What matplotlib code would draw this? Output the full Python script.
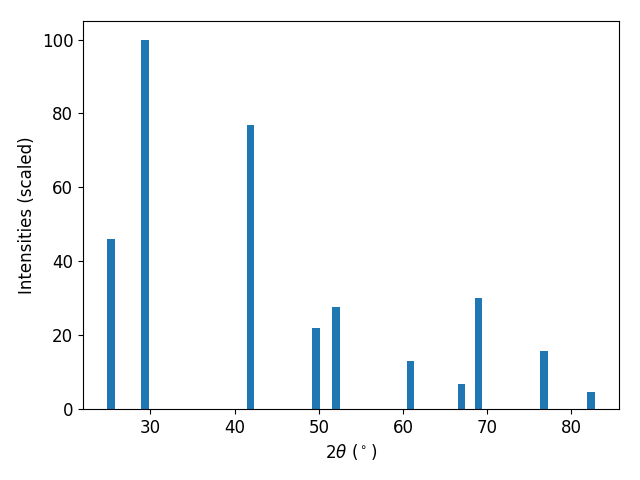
import matplotlib
matplotlib.use("Agg")
import matplotlib.pyplot as plt

two_theta = [25.3, 29.35, 41.9, 49.67, 52.05, 60.87, 66.99, 69.03, 76.77, 82.35]
intensity = [46.1, 100.0, 77.0, 22.0, 27.7, 13.0, 6.8, 30.1, 15.7, 4.6]

fig, ax = plt.subplots(figsize=(6.4, 4.8), dpi=100)
ax.bar(two_theta, intensity, width=0.85, color="#1f77b4")
ax.set_xlabel(r"$2\theta$ ($^\circ$)", fontsize=12)
ax.set_ylabel("Intensities (scaled)", fontsize=12)
ax.tick_params(labelsize=12)
fig.subplots_adjust(left=0.1297, right=0.967, top=0.956, bottom=0.148)
fig.savefig("out.png")
